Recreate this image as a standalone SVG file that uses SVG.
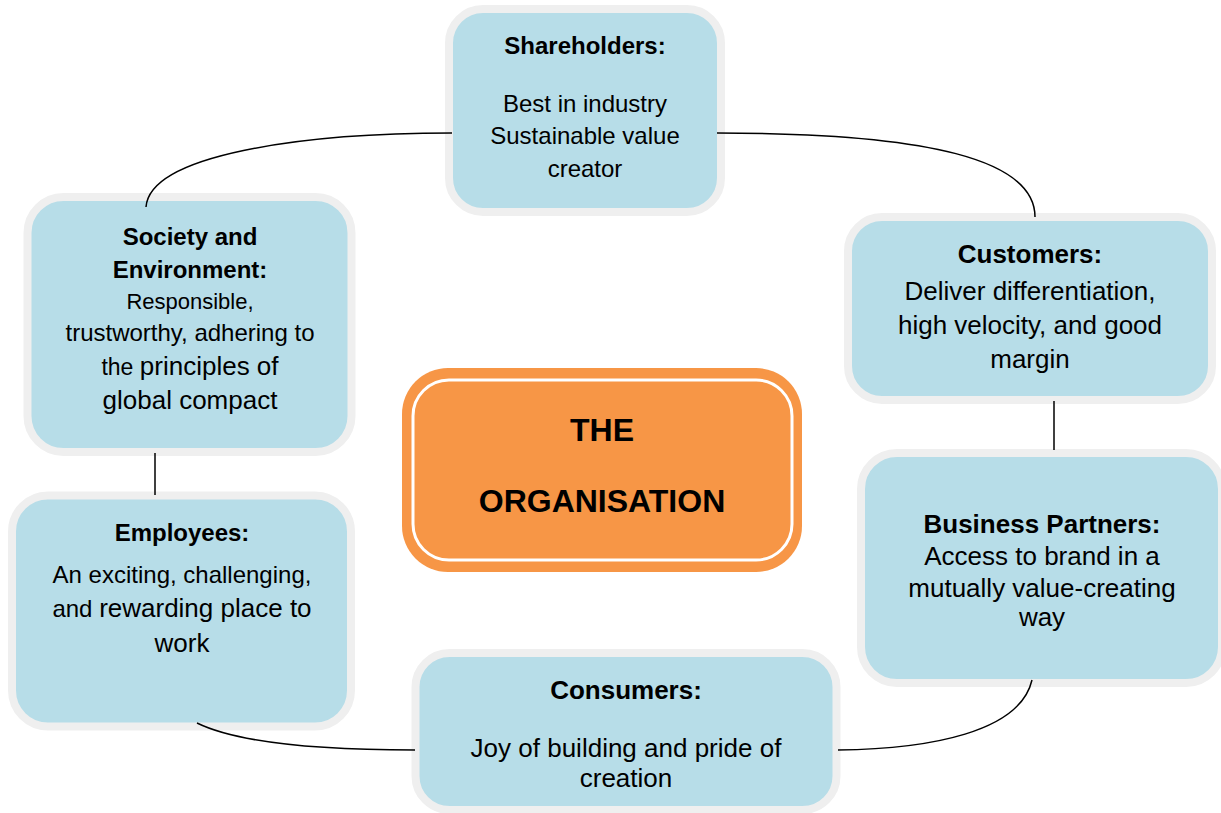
<svg xmlns="http://www.w3.org/2000/svg" width="1221" height="813" viewBox="0 0 1221 813">
<style>
.box{fill:#b7dde8;stroke:#efefef;stroke-width:8}
.con{fill:none;stroke:#000;stroke-width:1.5}
text{font-family:"Liberation Sans",Arial,sans-serif;fill:#000;text-anchor:middle}
.b{font-weight:bold}
</style>
<rect width="1221" height="813" fill="#fff"/>
<g id="shareholders">
<rect class="box" x="449" y="9" width="272" height="203" rx="34"/>
<text class="b" x="585" y="54" font-size="24">Shareholders:</text>
<text x="585" y="112" font-size="24">Best in industry</text>
<text x="585" y="144" font-size="24">Sustainable value</text>
<text x="585" y="177" font-size="24">creator</text>
</g>
<g id="society">
<rect class="box" x="27.5" y="197" width="324" height="255" rx="36"/>
<text class="b" x="190" y="245" font-size="24">Society and</text>
<text class="b" x="190" y="278" font-size="24">Environment:</text>
<text x="190" y="309" font-size="22">Responsible,</text>
<text x="190" y="341" font-size="24">trustworthy, adhering to</text>
<text x="190" y="375"><tspan font-size="23">the </tspan><tspan font-size="26">principles of</tspan></text>
<text x="190" y="409" font-size="26">global compact</text>
</g>
<g id="customers">
<rect class="box" x="848" y="217" width="364" height="183" rx="34"/>
<text class="b" x="1030" y="263" font-size="26">Customers:</text>
<text x="1030" y="300" font-size="26">Deliver differentiation,</text>
<text x="1030" y="334" font-size="26">high velocity, and good</text>
<text x="1030" y="368" font-size="26">margin</text>
</g>
<g id="business-partners">
<rect class="box" x="861" y="453" width="361" height="230" rx="36"/>
<text class="b" x="1042" y="533" font-size="26">Business Partners:</text>
<text x="1042" y="565" font-size="26">Access to brand in a</text>
<text x="1042" y="597" font-size="26">mutually value-creating</text>
<text x="1042" y="626" font-size="26">way</text>
</g>
<g id="employees">
<rect class="box" x="12" y="495.5" width="339" height="231" rx="36"/>
<text class="b" x="182" y="541" font-size="24">Employees:</text>
<text x="182" y="583" font-size="24">An exciting, challenging,</text>
<text x="182" y="617"><tspan font-size="24">and </tspan><tspan font-size="26">rewarding place to</tspan></text>
<text x="182" y="652" font-size="26">work</text>
</g>
<g id="consumers">
<rect class="box" x="415.5" y="653" width="421" height="157" rx="34"/>
<text class="b" x="626" y="699" font-size="26">Consumers:</text>
<text x="626" y="757" font-size="26">Joy of building and pride of</text>
<text x="626" y="787" font-size="26">creation</text>
</g>
<g id="organisation">
<rect x="402" y="368" width="400" height="204" rx="46" fill="#f79646"/>
<rect x="413" y="380" width="379" height="180" rx="36" fill="none" stroke="#fff" stroke-width="3"/>
<text class="b" x="602" y="441" font-size="32">THE</text>
<text class="b" x="602" y="512" font-size="32">ORGANISATION</text>
</g>
<g id="connectors">
<path class="con" d="M452 133 C300 133,150 155,146 207"/>
<path class="con" d="M717 133 C930 133,1035 160,1035 217"/>
<path class="con" d="M1054 401 L1054 450"/>
<path class="con" d="M1032 680 C1020 732,930 749,838 750"/>
<path class="con" d="M197 723 C240 744,330 750,415 750"/>
<path class="con" d="M155 453 L155 495"/>
</g>
</svg>
